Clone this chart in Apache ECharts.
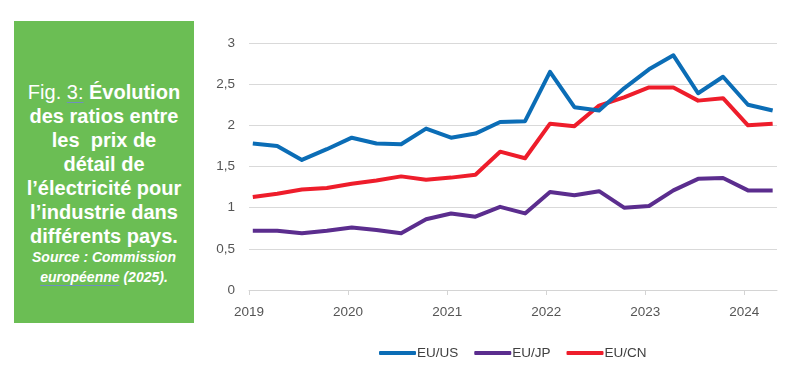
<!DOCTYPE html>
<html>
<head>
<meta charset="utf-8">
<script src="https://cdn.jsdelivr.net/npm/echarts@6/dist/echarts.min.js"></script>
<style>
  html, body { margin: 0; padding: 0; background: #ffffff; }
  #wrap { position: relative; width: 800px; height: 374px; overflow: hidden; }
  #chart { position: absolute; left: 0; top: 0; width: 800px; height: 374px; }
  #box { position: absolute; left: 14px; top: 21px; width: 180px; height: 302px;
         background: #6BBE54; color: #ffffff; font-family: "Liberation Sans", Arial, sans-serif; text-align: center; }
  #title { position: absolute; left: 0; right: 0; top: 59px; font-size: 20px; line-height: 24px; font-weight: bold; }
  #title .n { font-weight: normal; }
  #src { position: absolute; left: 0; right: 0; top: 227px; font-size: 14px; line-height: 19.5px; font-weight: bold; font-style: italic; }
  .sp { text-decoration: underline; text-decoration-color: #6f8fc0; text-decoration-thickness: 1px; text-underline-offset: 3px; }
</style>
</head>
<body>
<div id="wrap">
  <div id="chart"></div>
  <div id="box">
    <div id="title"><span class="n">Fig. <span class="sp">3:</span></span> Évolution<br>des ratios entre<br>les &nbsp;prix de<br>détail de<br>l’électricité pour<br>l’industrie dans<br>différents pays.</div>
    <div id="src">Source : Commission<br><span class="sp">européenne</span> (2025).</div>
  </div>
</div>
<script>
// Quarterly observation dates
const dates = [
  '2019-01-15','2019-04-15','2019-07-15','2019-10-15',
  '2020-01-15','2020-04-15','2020-07-15','2020-10-15',
  '2021-01-15','2021-04-15','2021-07-15','2021-10-15',
  '2022-01-15','2022-04-15','2022-07-15','2022-10-15',
  '2023-01-15','2023-04-15','2023-07-15','2023-10-15',
  '2024-01-15','2024-04-15'
];
const euUS = [1.78,1.75,1.58,1.71,1.85,1.78,1.77,1.96,1.85,1.90,2.04,2.05,2.65,2.22,2.18,2.45,2.68,2.85,2.39,2.59,2.25,2.18];
const euJP = [0.72,0.72,0.69,0.72,0.76,0.73,0.69,0.86,0.93,0.89,1.01,0.93,1.19,1.15,1.20,1.00,1.02,1.21,1.35,1.36,1.21,1.21];
const euCN = [1.13,1.17,1.22,1.24,1.29,1.33,1.38,1.34,1.365,1.40,1.68,1.60,2.02,1.99,2.24,2.34,2.46,2.46,2.30,2.33,2.00,2.02];
const seriesNames = ['EU/US','EU/JP','EU/CN'];
const seriesColors = ['#0B6DB6','#5B2D8E','#EE1D2B'];
const yTicks = [0,0.5,1,1.5,2,2.5,3];

const chart = echarts.init(document.getElementById('chart'), null, {renderer: 'canvas'});
const font = 'Liberation Sans';
const mk = (arr) => dates.map((d, i) => [d, arr[i]]);
const allData = [euUS, euJP, euCN];
const YEAR = 365 * 24 * 3600 * 1000;

chart.setOption({
  animation: false,
  backgroundColor: 'transparent',
  grid: { left: 249, right: 23, top: 43, bottom: 84, containLabel: false },
  legend: {
    left: 374, top: 341,
    itemWidth: 37, itemHeight: 4, itemGap: 16,
    icon: 'roundRect',
    textStyle: { color: '#404040', fontSize: 13.5, fontFamily: font, padding: [0, 0, 0, -4] },
    data: seriesNames
  },
  xAxis: {
    type: 'time',
    min: '2019-01-01', max: '2024-05-01',
    minInterval: YEAR, maxInterval: YEAR,
    axisLine: { lineStyle: { color: '#d4d4d4', width: 1 } },
    axisTick: { show: true, length: 5, lineStyle: { color: '#d4d4d4' } },
    splitLine: { show: false },
    minorTick: { show: false },
    axisLabel: {
      color: '#555555', fontSize: 13.5, fontFamily: font, margin: 15,
      showMinLabel: true, showMaxLabel: false,
      formatter: (v) => String(new Date(v).getFullYear())
    }
  },
  yAxis: {
    type: 'value', min: 0, max: 3, interval: 0.5,
    axisLine: { show: false }, axisTick: { show: false },
    splitLine: { lineStyle: { color: '#d9d9d9', width: 1 } },
    axisLabel: {
      color: '#555555', fontSize: 13.5, fontFamily: font, margin: 14,
      formatter: (v) => yTicks.includes(v) ? String(v).replace('.', ',') : ''
    }
  },
  series: seriesNames.map((n, i) => ({
    name: n, type: 'line', data: mk(allData[i]),
    showSymbol: false, symbol: 'none',
    lineStyle: { color: seriesColors[i], width: 4, join: 'round' },
    itemStyle: { color: seriesColors[i] },
    z: i === 0 ? 3 : (i === 2 ? 2 : 1)
  }))
});
</script>
</body>
</html>
